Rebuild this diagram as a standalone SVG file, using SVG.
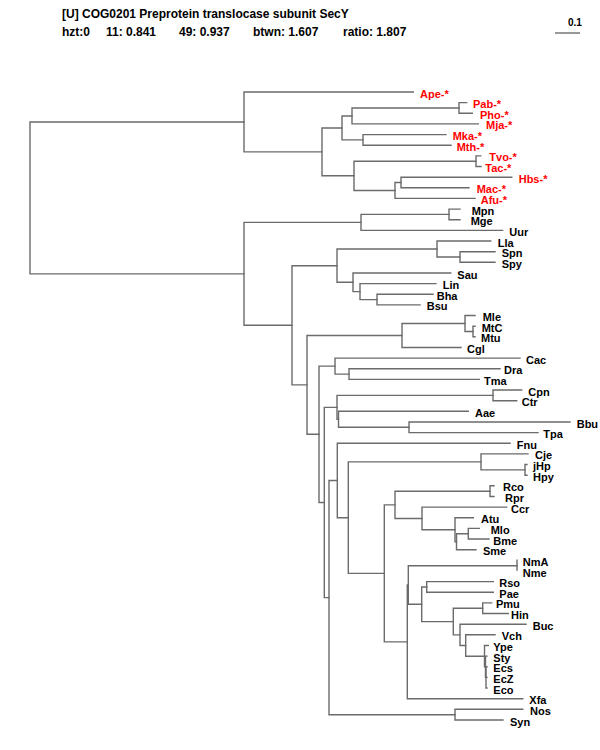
<svg xmlns="http://www.w3.org/2000/svg" width="600" height="750" viewBox="0 0 600 750">
<style>
.br{fill:none;stroke:#6b6b6b;stroke-width:1.4;stroke-linecap:square}
text{font-family:"Liberation Sans",Arial,Helvetica,sans-serif;font-weight:bold}
.hd{font-size:12px;fill:#000}
.lf{font-size:11px;fill:#000}
.ar{fill:#ff0000}
</style>
<rect width="600" height="750" fill="#fff"/>
<g id="header">
<text class="hd" x="62" y="18">[U] COG0201 Preprotein translocase subunit SecY</text>
<text class="hd" y="36"><tspan x="62">hzt:0</tspan><tspan x="106">11: 0.841</tspan><tspan x="179">49: 0.937</tspan><tspan x="253">btwn: 1.607</tspan><tspan x="343">ratio: 1.807</tspan></text>
</g>
<g id="scalebar">
<text class="lf" x="568" y="26" style="font-size:10px">0.1</text>
<path d="M555,33H580" stroke="#333" stroke-width="1"/>
</g>
<g id="connectors">
<path class="br" d="M30,122V273.9M30,122H244M30,273.9H244"/>
<path class="br" d="M244,92V151.9M244,92H413.3M244,151.9H322"/>
<path class="br" d="M322,128V175.8M322,128H342M322,175.8H354"/>
<path class="br" d="M342,116V139.9M342,116H352M342,139.9H363"/>
<path class="br" d="M352,108V123.9M352,108H459M352,123.9H478.3"/>
<path class="br" d="M459,102.6V113.3M459,102.6H466.7M459,113.3H472.3"/>
<path class="br" d="M363,134.6V145.2M363,134.6H446M363,145.2H451"/>
<path class="br" d="M354,161.2V190.5M354,161.2H476M354,190.5H395"/>
<path class="br" d="M476,155.9V166.5M476,155.9H480.7M476,166.5H481"/>
<path class="br" d="M395,182.5V198.4M395,182.5H401M395,198.4H475"/>
<path class="br" d="M401,177.2V187.8M401,177.2H511.7M401,187.8H469"/>
<path class="br" d="M244,222.4V325.3M244,222.4H361M244,325.3H292"/>
<path class="br" d="M361,214.4V230.4M361,214.4H449M361,230.4H502.7"/>
<path class="br" d="M449,209.1V219.7M449,209.1H460M449,219.7H460"/>
<path class="br" d="M292,265.7V384.9M292,265.7H337M292,384.9H307"/>
<path class="br" d="M337,249V282.3M337,249H437M337,282.3H353"/>
<path class="br" d="M437,241V257M437,241H490.7M437,257H460"/>
<path class="br" d="M460,251.7V262.3M460,251.7H495M460,262.3H495"/>
<path class="br" d="M353,273V291.6M353,273H450.7M353,291.6H360"/>
<path class="br" d="M360,283.6V299.6M360,283.6H436M360,299.6H377"/>
<path class="br" d="M377,294.2V304.9M377,294.2H433M377,304.9H420"/>
<path class="br" d="M307,335.5V434.3M307,335.5H402M307,434.3H319"/>
<path class="br" d="M402,323.5V347.5M402,323.5H465M402,347.5H461"/>
<path class="br" d="M465,315.5V331.5M465,315.5H475M465,331.5H473"/>
<path class="br" d="M473,326.2V336.8M473,326.2H475M473,336.8H475"/>
<path class="br" d="M319,366.1V502.5M319,366.1H335M319,502.5H324.3"/>
<path class="br" d="M335,358.1V374.1M335,358.1H520M335,374.1H349"/>
<path class="br" d="M349,368.7V379.4M349,368.7H500M349,379.4H479.3"/>
<path class="br" d="M324.3,407.4V597.6M324.3,407.4H337M324.3,597.6H329"/>
<path class="br" d="M337,395.4V419.3M337,395.4H493M337,419.3H338.5"/>
<path class="br" d="M493,390V400.7M493,390H521.7M493,400.7H516.7"/>
<path class="br" d="M338.5,411.3V427.3M338.5,411.3H468.3M338.5,427.3H409"/>
<path class="br" d="M409,422V432.6M409,422H570M409,432.6H538"/>
<path class="br" d="M329,480.5V714.7M329,480.5H337.3M329,714.7H455"/>
<path class="br" d="M337.3,443.3V517.7M337.3,443.3H510M337.3,517.7H348.3"/>
<path class="br" d="M348.3,461.9V573.4M348.3,461.9H481M348.3,573.4H384.3"/>
<path class="br" d="M481,453.9V469.9M481,453.9H528M481,469.9H525"/>
<path class="br" d="M525,464.5V475.2M525,464.5H527M525,475.2H527"/>
<path class="br" d="M384.3,504.9V641.9M384.3,504.9H395M384.3,641.9H407.3"/>
<path class="br" d="M395,491.2V518.5M395,491.2H490M395,518.5H422"/>
<path class="br" d="M490,485.8V496.5M490,485.8H494M490,496.5H494"/>
<path class="br" d="M422,507.1V529.8M422,507.1H506.7M422,529.8H455"/>
<path class="br" d="M455,517.8V541.7M455,517.8H473.3M455,541.7H456.5"/>
<path class="br" d="M456.5,533.7V549.7M456.5,533.7H468.3M456.5,549.7H476"/>
<path class="br" d="M468.3,528.4V539M468.3,528.4H479.3M468.3,539H489"/>
<path class="br" d="M407.3,585V698.7M407.3,585H408.3M407.3,698.7H522.7"/>
<path class="br" d="M408.3,565.7V604.3M408.3,565.7H517M408.3,604.3H421.7"/>
<path class="br" d="M517,560.3V570"/>
<path class="br" d="M421.7,587V621.6M421.7,587H426.7M421.7,621.6H453.3"/>
<path class="br" d="M426.7,581.6V592.3M426.7,581.6H493.3M426.7,592.3H493.3"/>
<path class="br" d="M453.3,608.2V634.9M453.3,608.2H482.7M453.3,634.9H460"/>
<path class="br" d="M482.7,602.9V613.5M482.7,602.9H491.7M482.7,613.5H508.3"/>
<path class="br" d="M460,624.2V645.5M460,624.2H526M460,645.5H465.7"/>
<path class="br" d="M465.7,634.8V656.2M465.7,634.8H495M465.7,656.2H484.5"/>
<path class="br" d="M484.5,645.5V666.8M484.5,645.5H488.3M484.5,666.8H485.5"/>
<path class="br" d="M485.5,656.1V677.4M485.5,656.1H487M485.5,677.4H486"/>
<path class="br" d="M486,666.8V688M486,666.8H487M486,677.4H487M486,688H487"/>
<path class="br" d="M455,709.3V720M455,709.3H522.7M455,720H503"/>
</g>
<g id="n-Ape"><text class="lf ar" x="420" y="97.5">Ape-*</text></g>
<g id="n-Pab"><text class="lf ar" x="473" y="108.1">Pab-*</text></g>
<g id="n-Pho"><text class="lf ar" x="480" y="118.8">Pho-*</text></g>
<g id="n-Mja"><text class="lf ar" x="486" y="129.4">Mja-*</text></g>
<g id="n-Mka"><text class="lf ar" x="452.7" y="140.1">Mka-*</text></g>
<g id="n-Mth"><text class="lf ar" x="456.7" y="150.7">Mth-*</text></g>
<g id="n-Tvo"><text class="lf ar" x="489.3" y="161.4">Tvo-*</text></g>
<g id="n-Tac"><text class="lf ar" x="485.3" y="172">Tac-*</text></g>
<g id="n-Hbs"><text class="lf ar" x="518.7" y="182.7">Hbs-*</text></g>
<g id="n-Mac"><text class="lf ar" x="476.7" y="193.3">Mac-*</text></g>
<g id="n-Afu"><text class="lf ar" x="480.7" y="203.9">Afu-*</text></g>
<g id="n-Mpn"><text class="lf" x="471.7" y="214.6">Mpn</text></g>
<g id="n-Mge"><text class="lf" x="470.7" y="225.2">Mge</text></g>
<g id="n-Uur"><text class="lf" x="509.3" y="235.9">Uur</text></g>
<g id="n-Lla"><text class="lf" x="497.7" y="246.5">Lla</text></g>
<g id="n-Spn"><text class="lf" x="501.7" y="257.2">Spn</text></g>
<g id="n-Spy"><text class="lf" x="501.7" y="267.8">Spy</text></g>
<g id="n-Sau"><text class="lf" x="457.3" y="278.5">Sau</text></g>
<g id="n-Lin"><text class="lf" x="442.7" y="289.1">Lin</text></g>
<g id="n-Bha"><text class="lf" x="436.7" y="299.7">Bha</text></g>
<g id="n-Bsu"><text class="lf" x="426.7" y="310.4">Bsu</text></g>
<g id="n-Mle"><text class="lf" x="482.7" y="321">Mle</text></g>
<g id="n-MtC"><text class="lf" x="481.7" y="331.7">MtC</text></g>
<g id="n-Mtu"><text class="lf" x="481" y="342.3">Mtu</text></g>
<g id="n-Cgl"><text class="lf" x="467" y="353">Cgl</text></g>
<g id="n-Cac"><text class="lf" x="526" y="363.6">Cac</text></g>
<g id="n-Dra"><text class="lf" x="504" y="374.2">Dra</text></g>
<g id="n-Tma"><text class="lf" x="484" y="384.9">Tma</text></g>
<g id="n-Cpn"><text class="lf" x="528.3" y="395.5">Cpn</text></g>
<g id="n-Ctr"><text class="lf" x="521.7" y="406.2">Ctr</text></g>
<g id="n-Aae"><text class="lf" x="475" y="416.8">Aae</text></g>
<g id="n-Bbu"><text class="lf" x="576.7" y="427.5">Bbu</text></g>
<g id="n-Tpa"><text class="lf" x="543.3" y="438.1">Tpa</text></g>
<g id="n-Fnu"><text class="lf" x="516.7" y="448.8">Fnu</text></g>
<g id="n-Cje"><text class="lf" x="535" y="459.4">Cje</text></g>
<g id="n-jHp"><text class="lf" x="533" y="470">jHp</text></g>
<g id="n-Hpy"><text class="lf" x="533" y="480.7">Hpy</text></g>
<g id="n-Rco"><text class="lf" x="503" y="491.3">Rco</text></g>
<g id="n-Rpr"><text class="lf" x="505" y="502">Rpr</text></g>
<g id="n-Ccr"><text class="lf" x="511" y="512.6">Ccr</text></g>
<g id="n-Atu"><text class="lf" x="481" y="523.3">Atu</text></g>
<g id="n-Mlo"><text class="lf" x="490.7" y="533.9">Mlo</text></g>
<g id="n-Bme"><text class="lf" x="493.3" y="544.5">Bme</text></g>
<g id="n-Sme"><text class="lf" x="483" y="555.2">Sme</text></g>
<g id="n-NmA"><text class="lf" x="522.7" y="565.8">NmA</text></g>
<g id="n-Nme"><text class="lf" x="522.7" y="576.5">Nme</text></g>
<g id="n-Rso"><text class="lf" x="499.3" y="587.1">Rso</text></g>
<g id="n-Pae"><text class="lf" x="499.3" y="597.8">Pae</text></g>
<g id="n-Pmu"><text class="lf" x="496" y="608.4">Pmu</text></g>
<g id="n-Hin"><text class="lf" x="511" y="619">Hin</text></g>
<g id="n-Buc"><text class="lf" x="532.7" y="629.7">Buc</text></g>
<g id="n-Vch"><text class="lf" x="501.7" y="640.3">Vch</text></g>
<g id="n-Ype"><text class="lf" x="493.3" y="651">Ype</text></g>
<g id="n-Sty"><text class="lf" x="493.3" y="661.6">Sty</text></g>
<g id="n-Ecs"><text class="lf" x="493.3" y="672.3">Ecs</text></g>
<g id="n-EcZ"><text class="lf" x="493.3" y="682.9">EcZ</text></g>
<g id="n-Eco"><text class="lf" x="493.3" y="693.5">Eco</text></g>
<g id="n-Xfa"><text class="lf" x="529.3" y="704.2">Xfa</text></g>
<g id="n-Nos"><text class="lf" x="530" y="714.8">Nos</text></g>
<g id="n-Syn"><text class="lf" x="510" y="725.5">Syn</text></g>
</svg>
